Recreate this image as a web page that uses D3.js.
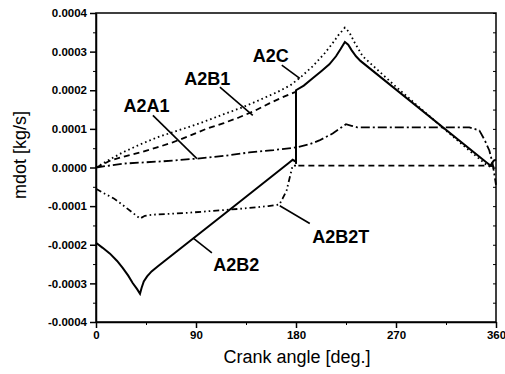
<!DOCTYPE html>
<html>
<head>
<meta charset="utf-8">
<script src="https://cdn.jsdelivr.net/npm/d3@7"></script>
<style>
  body { margin: 0; background: #fff; }
  svg { display: block; font-family: "Liberation Sans", Arial, sans-serif; }
</style>
</head>
<body>
<svg width="505" height="374"></svg>
<script>
// crank angle [deg], mdot [1e-4 kg/s]
const a2c = [[0,0],[6,0.1],[12,0.2],[24,0.39],[40,0.6],[55,0.78],[75,0.97],[93,1.14],[115,1.38],[132,1.56],[145,1.72],[163,1.95],[175,2.13],[185,2.36],[195,2.62],[205,2.93],[212,3.18],[218,3.42],[224,3.62],[228,3.5],[233,3.22],[240,2.88],[270,2.09],[306,1.18],[336,0.44],[351,0.08],[356,0],[360,-0.05]];
const a2b1 = [[0,0],[6,0.08],[13,0.18],[26,0.29],[40,0.39],[55,0.52],[69,0.65],[85,0.83],[100,1.01],[115,1.15],[129,1.3],[143,1.47],[156,1.66],[168,1.82],[179,1.95],[180,1.95],[180,0.05],[250,0.05],[355,0.05],[360,0]];
const a2a1 = [[0,0],[24,0.1],[60,0.16],[91,0.23],[115,0.3],[138,0.39],[160,0.45],[180,0.52],[192,0.6],[201,0.7],[213,0.88],[220,1.02],[225,1.12],[230,1.08],[235,1.04],[285,1.04],[336,1.04],[345,0.96],[350,0.7],[354,0.44],[357,0.1],[360,-0.45]];
const a2b2 = [[0,-1.95],[6,-2.08],[12.6,-2.23],[19,-2.42],[24,-2.6],[29,-2.8],[33,-2.99],[37,-3.15],[39.6,-3.27],[41,-3.12],[43,-2.95],[46,-2.82],[50,-2.69],[56,-2.55],[120,-1.1],[174,0.13],[177,0.2],[180,0.15],[180,2.0],[187,2.12],[195,2.31],[203,2.5],[210,2.67],[216,2.88],[220,3.06],[224,3.25],[227,3.18],[230,3.04],[234,2.88],[238,2.76],[351.5,0.13],[355,0.05],[358,0.18],[360,0.2]];
const a2b2t = [[0,-0.55],[8,-0.68],[16,-0.8],[24,-0.97],[32,-1.15],[39.6,-1.32],[44,-1.25],[52,-1.22],[84,-1.17],[129,-1.07],[155,-1.0],[165,-0.96],[168,-0.8],[171.5,-0.6],[174,-0.3],[177,0.05],[180,0.05]];

const xTicks = [0, 90, 180, 270, 360];
const xMinor = [45, 135, 225, 315];
const yTicks = [-4, -3, -2, -1, 0, 1, 2, 3, 4];
const yMinor = [-3.5, -2.5, -1.5, -0.5, 0.5, 1.5, 2.5, 3.5];

// label: name, text position, leader line from -> to
const labels = [
  {name: "A2C",   at: [157.3, 2.73],  from: [167.2, 2.65],  to: [183.4, 2.31]},
  {name: "A2B1",  at: [100.2, 2.13],  from: [111.5, 2.08],  to: [141.1, 1.35]},
  {name: "A2A1",  at: [45.4, 1.43],   from: [51.2, 1.35],   to: [90.8, 0.23]},
  {name: "A2B2",  at: [126.3, -2.68], from: [104.3, -2.21], to: [87.2, -1.82]},
  {name: "A2B2T", at: [220.2, -1.95], from: [192.4, -1.45], to: [165.4, -0.99]}
];

const width = 505, height = 374;
const margin = {top: 13, right: 9, bottom: 52, left: 96};

const svg = d3.select("svg");

const x = d3.scaleLinear()
  .domain([0, 360])
  .range([margin.left, width - margin.right]);

const y = d3.scaleLinear()
  .domain([-4, 4])
  .range([height - margin.bottom, margin.top]);

const line = d3.line()
  .x(d => x(d[0]))
  .y(d => y(d[1]));

// frame
svg.append("rect")
  .attr("x", x(0)).attr("y", y(4))
  .attr("width", x(360) - x(0)).attr("height", y(-4) - y(4))
  .attr("fill", "none").attr("stroke", "#000").attr("stroke-width", 1.5);

// axes
const fmt = d => (d / 1e4).toFixed(4);

svg.append("g")
  .attr("transform", `translate(0,${y(-4)})`)
  .call(d3.axisBottom(x).tickValues(xMinor).tickSize(3).tickFormat(""))
  .call(g => g.select(".domain").remove());

svg.append("g")
  .attr("transform", `translate(0,${y(-4)})`)
  .call(d3.axisBottom(x).tickValues(xTicks).tickSize(6).tickPadding(3).tickSizeOuter(0))
  .call(g => g.select(".domain").attr("stroke-width", 1.5))
  .call(g => g.selectAll(".tick line").attr("stroke-width", 1.5))
  .call(g => g.selectAll("text")
    .attr("font-size", 11.5).attr("font-weight", "bold")
    .attr("font-family", "Liberation Sans, Arial, sans-serif"));

svg.append("g")
  .attr("transform", `translate(${x(0)},0)`)
  .call(d3.axisLeft(y).tickValues(yMinor).tickSize(3).tickFormat(""))
  .call(g => g.select(".domain").remove());

svg.append("g")
  .attr("transform", `translate(${x(0)},0)`)
  .call(d3.axisLeft(y).tickValues(yTicks).tickSize(6).tickPadding(3).tickSizeOuter(0).tickFormat(fmt))
  .call(g => g.select(".domain").attr("stroke-width", 1.5))
  .call(g => g.selectAll(".tick line").attr("stroke-width", 1.5))
  .call(g => g.selectAll("text")
    .attr("font-size", 11.5).attr("font-weight", "bold")
    .attr("font-family", "Liberation Sans, Arial, sans-serif"));

// right side inner ticks
svg.append("g")
  .attr("transform", `translate(${x(360)},0)`)
  .call(d3.axisLeft(y).tickValues(yTicks.concat(yMinor)).tickSize(3).tickFormat("").tickSizeOuter(0))
  .call(g => g.select(".domain").remove());

// axis titles
svg.append("text")
  .attr("x", (x(0) + x(360)) / 2 + 1)
  .attr("y", 363)
  .attr("text-anchor", "middle")
  .attr("font-size", 18)
  .text("Crank angle [deg.]");

svg.append("text")
  .attr("transform", "translate(26,155) rotate(-90)")
  .attr("text-anchor", "middle")
  .attr("font-size", 18)
  .text("mdot [kg/s]");

// curves
const series = [
  {data: a2c,   dash: "1.6,3",               w: 1.8},
  {data: a2b1,  dash: "6,4",                 w: 1.8},
  {data: a2a1,  dash: "9,3,2,3",             w: 1.8},
  {data: a2b2t, dash: "6,3,1.6,3,1.6,3",     w: 1.8},
  {data: a2b2,  dash: null,                  w: 2}
];

svg.append("g")
  .attr("fill", "none")
  .attr("stroke", "#000")
  .selectAll("path")
  .data(series)
  .enter().append("path")
    .attr("d", d => line(d.data))
    .attr("stroke-width", d => d.w)
    .attr("stroke-dasharray", d => d.dash);

// labels with leader lines
const lab = svg.append("g");

lab.selectAll("line")
  .data(labels)
  .enter().append("line")
    .attr("x1", d => x(d.from[0])).attr("y1", d => y(d.from[1]))
    .attr("x2", d => x(d.to[0])).attr("y2", d => y(d.to[1]))
    .attr("stroke", "#000").attr("stroke-width", 1.6);

lab.selectAll("text")
  .data(labels)
  .enter().append("text")
    .attr("x", d => x(d.at[0]))
    .attr("y", d => y(d.at[1]))
    .attr("text-anchor", "middle")
    .attr("font-size", 18)
    .attr("font-weight", "bold")
    .text(d => d.name);
</script>
</body>
</html>
